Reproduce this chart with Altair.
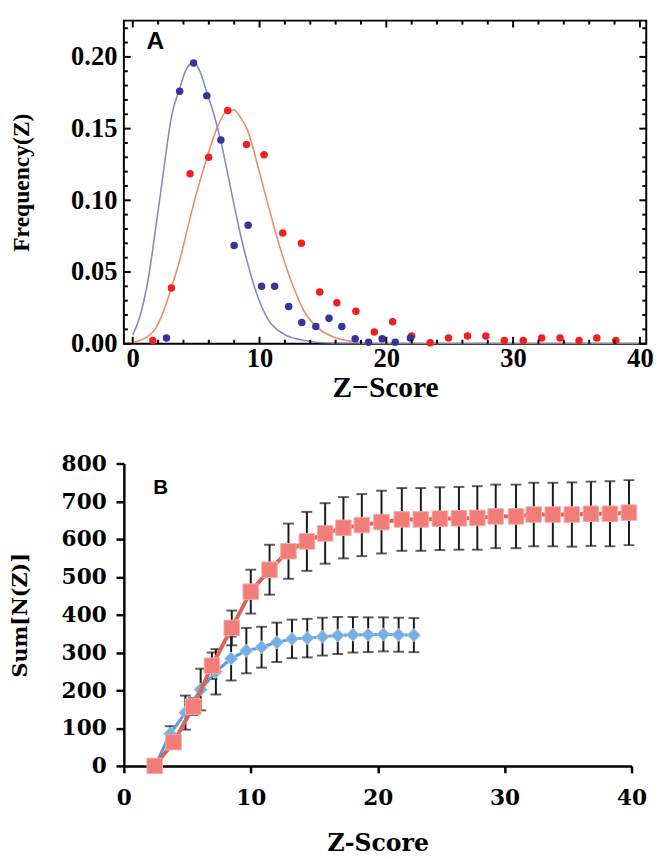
import altair as alt
import pandas as pd

# ---------------- Panel A data ----------------
blue_curve_z = [0.0, 0.6, 1.24, 1.8, 2.27, 2.7, 3.05, 3.7, 4.2, 4.78, 5.3, 5.84, 6.4, 6.98,
                7.5, 7.96, 8.5, 9.0, 9.38, 9.77, 10.67, 11.96, 13.26, 14.5, 16.0, 20.0, 40.5]
blue_curve_f = [0.006, 0.02, 0.046, 0.08, 0.110, 0.138, 0.158, 0.178, 0.191, 0.196, 0.190, 0.175,
                0.160, 0.140, 0.118, 0.098, 0.076, 0.058, 0.046, 0.035, 0.017, 0.0065, 0.0027,
                0.001, 0.0003, 0.0, 0.0]

red_curve_z = [0.0, 0.47, 1.0, 1.76, 2.4, 3.05, 3.7, 4.34, 5.0, 5.97, 6.67, 7.44, 8.0, 8.48,
               9.0, 9.38, 9.77, 10.67, 11.45, 12.48, 13.5, 14.55, 15.84, 17.1, 18.4, 20.0, 40.5]
red_curve_f = [0.0005, 0.002, 0.004, 0.010, 0.022, 0.039, 0.058, 0.081, 0.104, 0.133, 0.151,
               0.1625, 0.163, 0.158, 0.150, 0.140, 0.127, 0.097, 0.072, 0.044, 0.0228, 0.0114,
               0.0046, 0.0018, 0.0005, 0.0, 0.0]

blue_pts_z = [2.66, 3.7, 4.8, 5.84, 6.95, 8.0, 9.1, 10.16, 11.19, 12.3, 13.33, 14.44, 15.48,
              16.49, 17.54, 18.6, 19.67, 20.7, 21.9]
blue_pts_f = [0.004, 0.176, 0.1957, 0.173, 0.142, 0.0685, 0.0826, 0.040, 0.040, 0.026, 0.0148,
              0.012, 0.0178, 0.012, 0.0034, 0.001, 0.0034, 0.001, 0.004]

red_pts_z = [1.58, 3.05, 4.52, 5.99, 7.49, 8.97, 10.36, 11.83, 13.3, 14.75, 16.1, 17.6, 19.05,
             20.5, 22.0, 23.46, 24.9, 26.4, 27.85, 29.3, 30.8, 32.25, 33.7, 35.2, 36.6, 38.1]
red_pts_f = [0.0023, 0.0388, 0.1185, 0.130, 0.1626, 0.139, 0.1317, 0.0772, 0.070, 0.036, 0.0285,
             0.0226, 0.0082, 0.0153, 0.0053, 0.0007, 0.0039, 0.0053, 0.0053, 0.0023, 0.0023,
             0.0039, 0.0039, 0.0023, 0.0039, 0.0023]

x_major_A = [0, 10, 20, 30, 40]
x_minor_A = [2, 4, 6, 8, 12, 14, 16, 18, 22, 24, 26, 28, 32, 34, 36, 38]
y_major_A = [0.0, 0.05, 0.10, 0.15, 0.20]
y_minor_A = [0.01, 0.02, 0.03, 0.04, 0.06, 0.07, 0.08, 0.09, 0.11, 0.12, 0.13, 0.14,
             0.16, 0.17, 0.18, 0.19, 0.21, 0.22]
x_dom_A = [-0.7, 40.5]
y_dom_A = [0.0, 0.2253]

# ---------------- Panel B data ----------------
red_z = [2.43, 3.92, 5.47, 6.94, 8.5, 10.0, 11.48, 12.97, 14.42, 15.86, 17.3, 18.75, 20.3,
         21.9, 23.4, 24.9, 26.4, 27.85, 29.3, 30.9, 32.3, 33.8, 35.3, 36.8, 38.3, 39.8]
red_v = [0, 63, 157, 265, 365, 461, 519, 568, 594, 615, 630, 637, 645, 652, 652, 654, 655,
         656, 660, 660, 665, 665, 665, 667, 667, 670]
red_e = [0, 10, 22, 35, 46, 58, 66, 73, 78, 80, 81, 82, 83, 83, 83, 83, 83, 84, 84, 84, 84,
         84, 85, 85, 86, 86]

blue_z = [2.45, 3.65, 4.85, 6.05, 7.25, 8.45, 9.65, 10.85, 12.05, 13.25, 14.45, 15.65, 16.85,
          18.05, 19.25, 20.45, 21.65, 22.85]
blue_v = [0, 85, 141, 202, 249, 284, 305, 314, 327, 336, 338, 342, 345, 347, 347, 348, 347, 346]
blue_e = [0, 20, 45, 55, 60, 58, 60, 54, 52, 51, 51, 50, 49, 47, 46, 45, 45, 45]

x_ticks_B = [0, 10, 20, 30, 40]
y_ticks_B = [0, 100, 200, 300, 400, 500, 600, 700, 800]

SERIF_A = "Liberation Serif"
SERIF_B = "DejaVu Serif"

# ---------------- Panel A ----------------
W_A, H_A = 532, 329
TICK_MAJOR_PX, TICK_MINOR_PX = 7, 4
xsA = alt.Scale(domain=x_dom_A, nice=False, zero=False)
ysA = alt.Scale(domain=y_dom_A, nice=False, zero=False)

axAx = alt.Axis(values=x_major_A, ticks=False, domain=False, grid=False,
                labelFont=SERIF_A, labelFontSize=27, labelFontWeight="bold", labelColor="black",
                labelPadding=2, labelFlush=False, labelOverlap=False,
                title="Z\u2212Score", titleFont=SERIF_A, titleFontSize=30,
                titleFontWeight="bold", titleColor="black", titlePadding=2)
axAy = alt.Axis(values=y_major_A, format=".2f", ticks=False, domain=False, grid=False,
                labelFont=SERIF_A, labelFontSize=27, labelFontWeight="bold", labelColor="black",
                labelPadding=7, labelFlush=False, labelOverlap=False,
                title="Frequency(Z)", titleFont=SERIF_A, titleFontSize=24,
                titleFontWeight="bold", titleColor="black", titlePadding=38)


def XA(field="z"):
    return alt.X(f"{field}:Q", scale=xsA, axis=axAx)


def YA(field="f"):
    return alt.Y(f"{field}:Q", scale=ysA, axis=axAy)


dfBC = pd.DataFrame({"z": blue_curve_z, "f": blue_curve_f})
dfRC = pd.DataFrame({"z": red_curve_z, "f": red_curve_f})
dfBP = pd.DataFrame({"z": blue_pts_z, "f": blue_pts_f})
dfRP = pd.DataFrame({"z": red_pts_z, "f": red_pts_f})

# inward frame ticks on all four sides
ylen = lambda px: px * (y_dom_A[1] - y_dom_A[0]) / H_A
xlen = lambda px: px * (x_dom_A[1] - x_dom_A[0]) / W_A

xt_rows = []
for vals, px in ((x_major_A, TICK_MAJOR_PX), (x_minor_A, TICK_MINOR_PX)):
    for v in vals:
        xt_rows.append({"z": v, "a": y_dom_A[0], "b": y_dom_A[0] + ylen(px)})
        xt_rows.append({"z": v, "a": y_dom_A[1] - ylen(px), "b": y_dom_A[1]})
yt_rows = []
for vals, px in ((y_major_A, TICK_MAJOR_PX), (y_minor_A, TICK_MINOR_PX)):
    for v in vals:
        yt_rows.append({"f": v, "a": x_dom_A[0], "b": x_dom_A[0] + xlen(px)})
        yt_rows.append({"f": v, "a": x_dom_A[1] - xlen(px), "b": x_dom_A[1]})

ticks_x = alt.Chart(pd.DataFrame(xt_rows)).mark_rule(color="black", strokeWidth=2).encode(
    x=XA("z"), y=YA("a"), y2="b:Q")
ticks_y = alt.Chart(pd.DataFrame(yt_rows)).mark_rule(color="black", strokeWidth=2).encode(
    x=XA("a"), x2="b:Q", y=YA("f"))

red_curve = alt.Chart(dfRC).mark_line(color="#F08A6C", strokeWidth=1.6, interpolate="monotone",
                                      clip=True).encode(x=XA(), y=YA())
blue_curve = alt.Chart(dfBC).mark_line(color="#8688C6", strokeWidth=1.6, interpolate="monotone",
                                       clip=True).encode(x=XA(), y=YA())
red_pts = alt.Chart(dfRP).mark_circle(color="#F21F1F", size=58, opacity=1).encode(x=XA(), y=YA())
blue_pts = alt.Chart(dfBP).mark_circle(color="#34349A", size=58, opacity=1).encode(x=XA(), y=YA())
labelA = alt.Chart(pd.DataFrame({"z": [1.78], "f": [0.211], "t": ["A"]})).mark_text(
    font="Liberation Sans", fontSize=25, fontWeight="bold", color="black",
    align="center", baseline="middle").encode(x=XA(), y=YA(), text="t:N")

panelA = alt.layer(red_curve, blue_curve, red_pts, blue_pts, ticks_x, ticks_y, labelA).properties(
    width=W_A, height=H_A, view=alt.ViewBackground(stroke="black", strokeWidth=2))

# ---------------- Panel B ----------------
xsB = alt.Scale(domain=[0, 40], nice=False, zero=False)
ysB = alt.Scale(domain=[0, 800], nice=False, zero=False)

axBx = alt.Axis(values=x_ticks_B, tickSize=7, tickWidth=2.5, tickColor="black",
                domainColor="black", domainWidth=2.5, grid=False, labelFont=SERIF_B,
                labelFontSize=22, labelFontWeight="bold", labelColor="black", labelPadding=15,
                labelFlush=False, labelOverlap=False, title="Z-Score", titleFont=SERIF_B,
                titleFontSize=24, titleFontWeight="bold", titleColor="black", titlePadding=24)
axBy = alt.Axis(values=y_ticks_B, tickSize=8, tickWidth=2.5, tickColor="black",
                domainColor="black", domainWidth=2.5, grid=False, labelFont=SERIF_B,
                labelFontSize=22, labelFontWeight="bold", labelColor="black", labelPadding=10,
                labelFlush=False, labelOverlap=False, title="Sum[N(Z)]", titleFont=SERIF_B,
                titleFontSize=21, titleFontWeight="bold", titleColor="black", titlePadding=31)


def XB(field="z"):
    return alt.X(f"{field}:Q", scale=xsB, axis=axBx)


def YB(field="v"):
    return alt.Y(f"{field}:Q", scale=ysB, axis=axBy)


dfR = pd.DataFrame({"z": red_z, "v": red_v, "e": red_e})
dfR["lo"] = dfR["v"] - dfR["e"]
dfR["hi"] = dfR["v"] + dfR["e"]
dfBl = pd.DataFrame({"z": blue_z, "v": blue_v, "e": blue_e})
dfBl["lo"] = dfBl["v"] - dfBl["e"]
dfBl["hi"] = dfBl["v"] + dfBl["e"]

err = pd.concat([dfR[dfR["e"] > 0], dfBl[dfBl["e"] > 0]], ignore_index=True)

bars = alt.Chart(err).mark_rule(color="#1a1a1a", strokeWidth=2).encode(
    x=XB(), y=YB("lo"), y2="hi:Q")
caps_lo = alt.Chart(err).mark_tick(color="#1a1a1a", orient="horizontal", size=11,
                                   thickness=2).encode(x=XB(), y=YB("lo"))
caps_hi = alt.Chart(err).mark_tick(color="#1a1a1a", orient="horizontal", size=11,
                                   thickness=2).encode(x=XB(), y=YB("hi"))

blue_line = alt.Chart(dfBl).mark_line(color="#5B9BD8", strokeWidth=3).encode(x=XB(), y=YB())
blue_mk = alt.Chart(dfBl).mark_point(shape="diamond", filled=True, size=180, fill="#74AEE5",
                                     stroke="#A9CDEF", strokeWidth=1, opacity=1).encode(
    x=XB(), y=YB())
red_line = alt.Chart(dfR).mark_line(color="#E0605A", strokeWidth=4).encode(x=XB(), y=YB())
red_mk = alt.Chart(dfR).mark_point(shape="square", filled=True, size=250, fill="#F27C77",
                                   stroke="#F6ABA6", strokeWidth=1, opacity=1).encode(
    x=XB(), y=YB())
labelB = alt.Chart(pd.DataFrame({"z": [2.9], "v": [736], "t": ["B"]})).mark_text(
    font="Liberation Sans", fontSize=21, fontWeight="bold", color="black",
    align="center", baseline="middle").encode(x=XB(), y=YB(), text="t:N")

panelB = alt.layer(bars, caps_lo, caps_hi, blue_line, blue_mk, red_line, red_mk, labelB
                   ).properties(width=517, height=308)

chart = alt.vconcat(panelA, panelB, spacing=50).properties(
    padding={"left": 0, "top": 3, "right": 5, "bottom": 0}
).configure_view(strokeWidth=0)

chart.save("out.html", embed_options={"renderer": "svg", "actions": False})
